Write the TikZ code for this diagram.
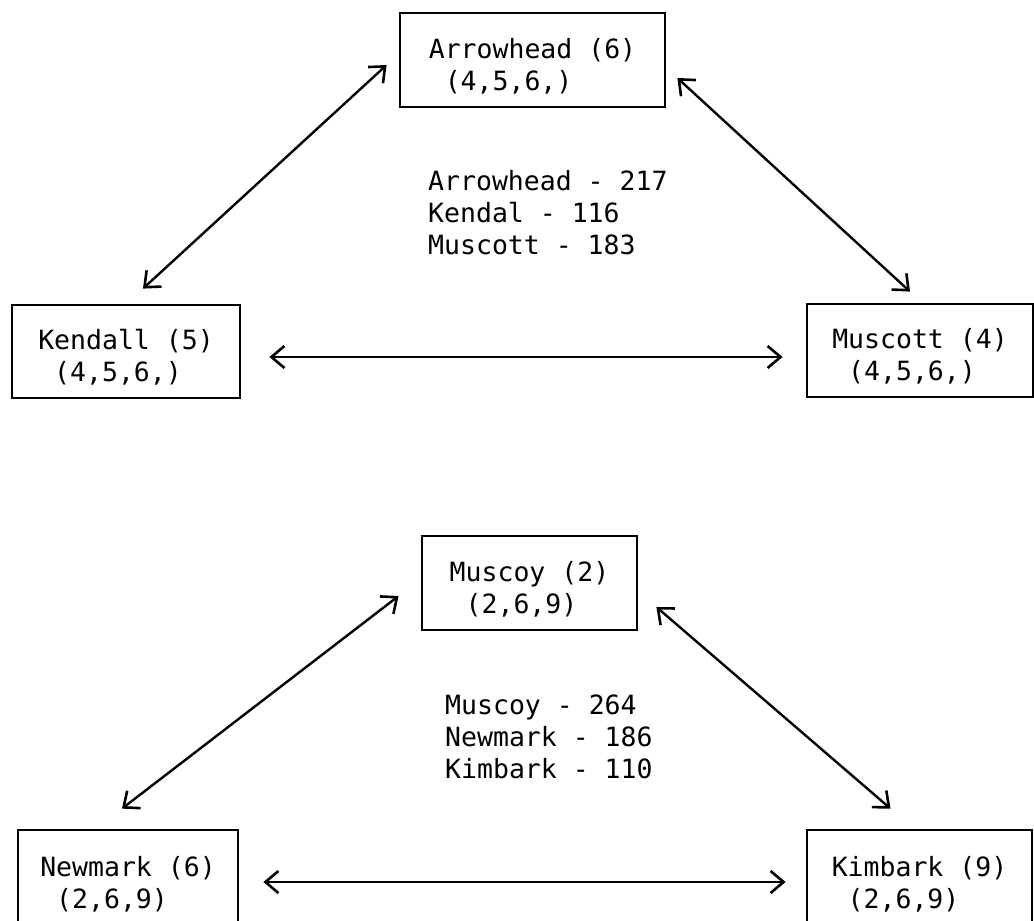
\documentclass[tikz,border=0pt]{standalone}
\usepackage{fontspec}
\newfontfamily\twfont{DejaVu Sans Mono}
\usetikzlibrary{arrows.meta,calc}
\newcommand{\lowstrut}{\rule{0pt}{32pt}}
\tikzset{
  boxnode/.style={draw, line width=2.8pt, align=left, inner sep=0pt,
    font=\twfont\fontsize{26.5}{32}\selectfont},
  lbl/.style={align=left, inner sep=0pt, anchor=west,
    font=\twfont\fontsize{26.5}{32}\selectfont},
  dbl/.style={line width=2.4pt, {Straight Barb[length=13pt,width=22pt,line width=2.6pt]}-{Straight Barb[length=13pt,width=22pt,line width=2.6pt]}}
}
\begin{document}
\begin{tikzpicture}[x=1pt,y=-1pt]
\clip (0,0) rectangle (1034,921);
\fill[white] (0,0) rectangle (1034,921);

% boxes
\node[boxnode, minimum width=265pt, minimum height=94pt] (A) at (532.5,60) {\lowstrut Arrowhead (6)\\\phantom{(}(4,5,6,)};
\node[boxnode, minimum width=228pt, minimum height=93pt] (K) at (126,351.5) {\lowstrut Kendall (5)\\\phantom{(}(4,5,6,)};
\node[boxnode, minimum width=226pt, minimum height=93pt] (M) at (920,350.5) {\lowstrut Muscott (4)\\\phantom{(}(4,5,6,)};
\node[boxnode, minimum width=215pt, minimum height=94pt] (Mc) at (529.5,583) {\lowstrut Muscoy (2)\\\phantom{(}(2,6,9)};
\node[boxnode, minimum width=220pt, minimum height=96pt] (N) at (128,878) {\lowstrut Newmark (6)\\\phantom{(}(2,6,9)};
\node[boxnode, minimum width=225pt, minimum height=96pt] (Kb) at (919.5,878) {\lowstrut Kimbark (9)\\\phantom{(}(2,6,9)};

% middle labels
\node[lbl] (t1) at (428,213) {Arrowhead - 217\\Kendal - 116\\Muscott - 183};
\node[lbl] (t2) at (445,737) {Muscoy - 264\\Newmark - 186\\Kimbark - 110};

% connector ends
\coordinate (akA) at ($(A.west)+(-12,5)$);
\coordinate (akK) at ($(K.north)+(17,-15)$);
\coordinate (amA) at ($(A.east)+(11,18)$);
\coordinate (amM) at ($(M.north)+(-10,-11)$);
\coordinate (kmK) at ($(K.east)+(28,5.5)$);
\coordinate (kmM) at ($(M.west)+(-23,6.5)$);
\coordinate (mnM) at ($(Mc.west)+(-22,13)$);
\coordinate (mnN) at ($(N.north)+(-6,-20)$);
\coordinate (mkM) at ($(Mc.east)+(18,24)$);
\coordinate (mkK) at ($(Kb.north)+(-29,-20)$);
\coordinate (nkN) at ($(N.east)+(24,4)$);
\coordinate (nkK) at ($(Kb.west)+(-20,4)$);

% connectors
\draw[dbl] (akA) -- (akK);
\draw[dbl] (amA) -- (amM);
\draw[dbl] (kmK) -- (kmM);
\draw[dbl] (mnM) -- (mnN);
\draw[dbl] (mkM) -- (mkK);
\draw[dbl] (nkN) -- (nkK);
\end{tikzpicture}
\end{document}
